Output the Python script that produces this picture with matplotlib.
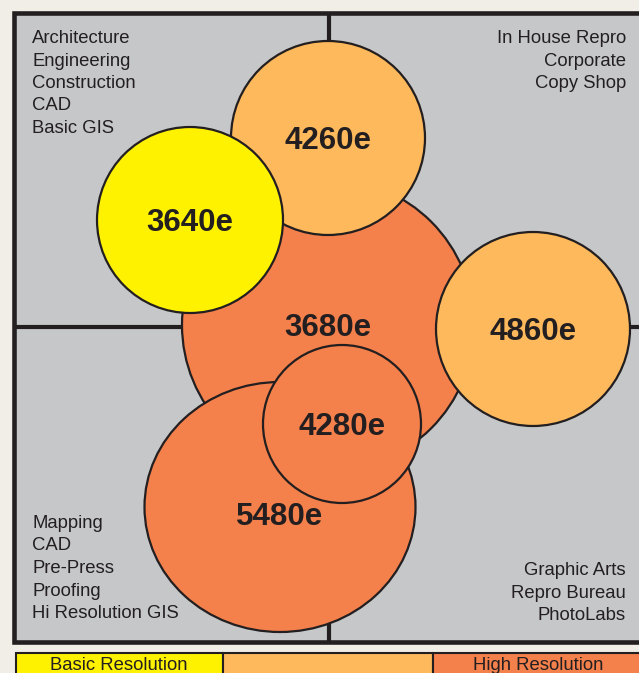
import matplotlib.pyplot as plt
from matplotlib.patches import Rectangle, Ellipse

plt.rcParams['font.family'] = ['Liberation Sans', 'DejaVu Sans']

# bubble data (image pixel coordinates: x right, y down)
labels = ['3680e', '4260e', '3640e', '4860e', '5480e', '4280e']
bx = [328, 328, 190, 533, 280, 342]
by = [325, 138, 220, 329, 507, 424]
bw = [292, 194, 186, 194, 271, 158]
bh = [292, 194, 186, 194, 250, 158]
tier = ['high', 'mid', 'basic', 'mid', 'high', 'high']
label_dy = [0, 0, 0, 0, 7, 0]

# quadrant texts
top_left = ['Architecture', 'Engineering', 'Construction', 'CAD', 'Basic GIS']
top_right = ['In House Repro', 'Corporate', 'Copy Shop']
bottom_left = ['Mapping', 'CAD', 'Pre-Press', 'Proofing', 'Hi Resolution GIS']
bottom_right = ['Graphic Arts', 'Repro Bureau', 'PhotoLabs']

legend_names = ['Basic Resolution', '', 'High Resolution']
legend_tiers = ['basic', 'mid', 'high']

colors = {'basic': '#fff200', 'mid': '#fdb95b', 'high': '#f4804b'}
ink = '#231f20'
gray = '#c6c7c9'

fig = plt.figure(figsize=(6.39, 6.73), dpi=100, facecolor='#f1ede7')
ax = fig.add_axes([0, 0, 1, 1])
ax.set_xlim(0, 639)
ax.set_ylim(673, 0)
ax.axis('off')

# panel with quadrants
ax.add_patch(Rectangle((14, 12.5), 650, 629.5, fc=gray, ec=ink, lw=3.3, zorder=1))
ax.plot([14, 660], [327, 327], color=ink, lw=3, zorder=2, solid_capstyle='butt')
ax.plot([329, 329], [12.5, 642], color=ink, lw=3, zorder=2, solid_capstyle='butt')

# bubbles
for i, lab in enumerate(labels):
    ax.add_patch(Ellipse((bx[i], by[i]), bw[i], bh[i], fc=colors[tier[i]],
                         ec=ink, lw=1.6, zorder=3 + i))
    ax.text(bx[i], by[i] + 11 + label_dy[i], lab, ha='center', va='baseline',
            fontsize=22.5, fontweight='bold', color=ink, zorder=20)

# quadrant labels
step = 22.5
fs = 13.3
for k, s in enumerate(top_left):
    ax.text(32, 43 + k * step, s, ha='left', va='baseline', fontsize=fs, color=ink, zorder=20)
for k, s in enumerate(top_right):
    ax.text(626, 43 + k * step, s, ha='right', va='baseline', fontsize=fs, color=ink, zorder=20)
for k, s in enumerate(bottom_left):
    ax.text(32, 528 + k * step, s, ha='left', va='baseline', fontsize=fs, color=ink, zorder=20)
for k, s in enumerate(bottom_right):
    ax.text(626, 575 + k * step, s, ha='right', va='baseline', fontsize=fs, color=ink, zorder=20)

# legend strip
edges = [15.5, 223, 433, 660]
for j, name in enumerate(legend_names):
    x0, x1 = edges[j], edges[j + 1]
    ax.add_patch(Rectangle((x0, 653), x1 - x0, 40, fc=colors[legend_tiers[j]],
                           ec=ink, lw=1.5, zorder=3))
    if name:
        ax.text((x0 + min(x1, 639)) / 2 if j < 2 else 538, 669.5, name,
                ha='center', va='baseline', fontsize=fs, color=ink, zorder=20)

fig.savefig('out.png', dpi=100, facecolor=fig.get_facecolor())
